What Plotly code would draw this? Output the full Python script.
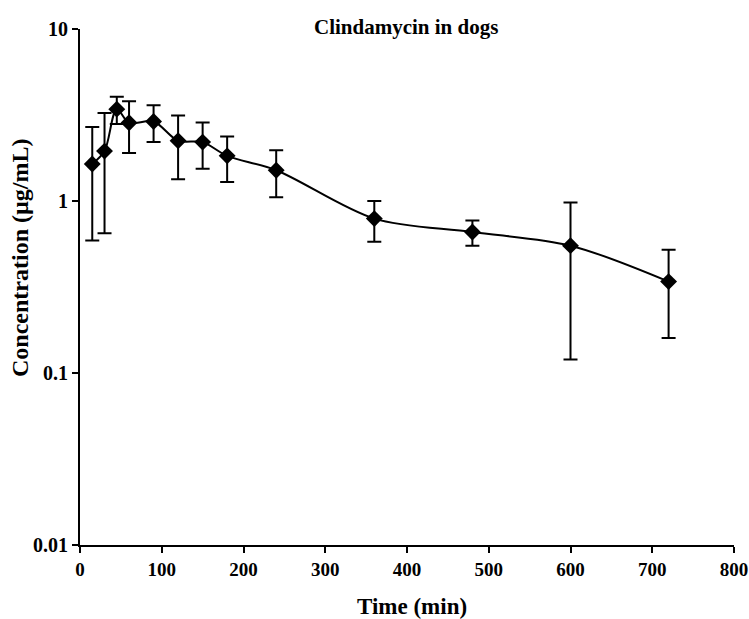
import plotly.graph_objects as go

time_min = [15, 30, 45, 60, 90, 120, 150, 180, 240, 360, 480, 600, 720]
conc = [1.64, 1.95, 3.42, 2.85, 2.90, 2.24, 2.20, 1.83, 1.51, 0.79, 0.66, 0.55, 0.34]
sd = [1.05, 1.30, 0.62, 0.95, 0.70, 0.90, 0.66, 0.54, 0.46, 0.21, 0.11, 0.43, 0.18]

x_ticks = [0, 100, 200, 300, 400, 500, 600, 700, 800]
y_ticks = [0.01, 0.1, 1, 10]
y_tick_text = ["0.01", "0.1", "1", "10"]

FONT = "Liberation Serif"
L, R, T, B = 80, 15, 29, 74
W, H = 749, 619
PW, PH = W - L - R, H - T - B

fig = go.Figure()
fig.add_trace(go.Scatter(
    x=time_min, y=conc,
    mode="lines+markers",
    line=dict(color="black", width=2, shape="spline", smoothing=0.9),
    marker=dict(symbol="diamond", size=13, color="black"),
    error_y=dict(type="data", array=sd, symmetric=True, color="black", thickness=2, width=7),
    showlegend=False,
))

fig.update_layout(
    width=W, height=H,
    margin=dict(l=L, r=R, t=T, b=B, autoexpand=False),
    paper_bgcolor="white", plot_bgcolor="white",
    font=dict(family=FONT, color="black"),
    annotations=[
        dict(text="<b>Clindamycin in dogs</b>", xref="paper", yref="paper",
             x=(406 - L) / PW, y=(H - B - 27) / PH, xanchor="center", yanchor="middle",
             showarrow=False, font=dict(family=FONT, size=21, color="black")),
        dict(text="<b>Time (min)</b>", xref="paper", yref="paper",
             x=(412 - L) / PW, y=(H - B - 606) / PH, xanchor="center", yanchor="middle",
             showarrow=False, font=dict(family=FONT, size=23, color="black")),
        dict(text="<b>Concentration (µg/mL)</b>", xref="paper", yref="paper",
             x=(20 - L) / PW, y=(H - B - 258) / PH, xanchor="center", yanchor="middle",
             textangle=-90, showarrow=False, font=dict(family=FONT, size=24, color="black")),
    ],
)

fig.update_xaxes(
    range=[0, 800], tickvals=x_ticks, ticktext=[f"<b>{v}</b>" for v in x_ticks],
    automargin=False,
    showgrid=False, zeroline=False, showline=True, linecolor="black", linewidth=2,
    ticks="outside", ticklen=6, tickwidth=2, tickcolor="black",
    ticklabeloverflow="allow",
    tickfont=dict(family=FONT, size=19, color="black"),
)
fig.update_yaxes(
    type="log", range=[-2, 1], tickvals=y_ticks, ticktext=[f"<b>{t}</b>" for t in y_tick_text],
    automargin=False,
    showgrid=False, zeroline=False, showline=True, linecolor="black", linewidth=2,
    ticks="outside", ticklen=6, tickwidth=2, tickcolor="black",
    ticklabeloverflow="allow",
    tickfont=dict(family=FONT, size=20, color="black"),
)

fig.write_html("out.html")
